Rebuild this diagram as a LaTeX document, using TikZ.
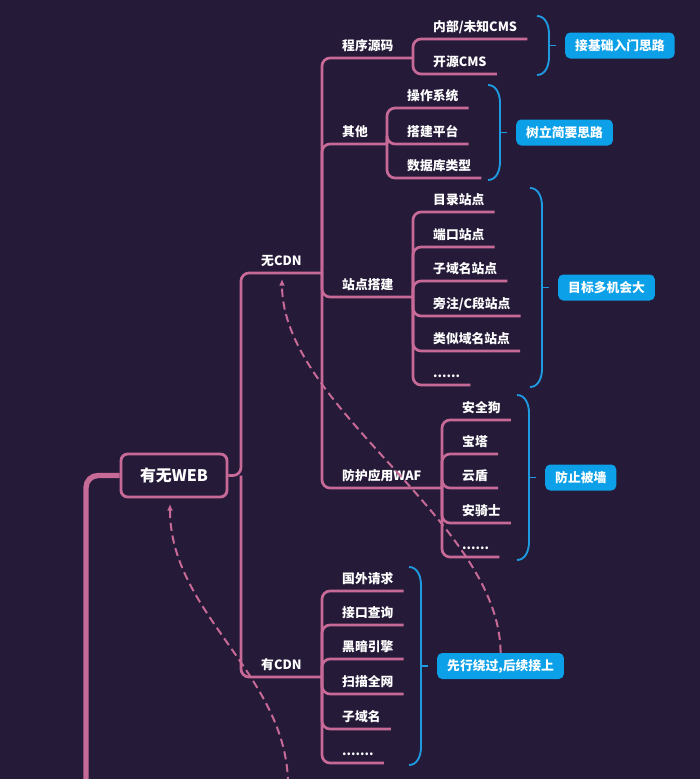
\documentclass[tikz,border=0pt]{standalone}
\usepackage{fontspec}
\setmainfont{Noto Sans CJK SC}
\usetikzlibrary{arrows.meta,positioning}
\definecolor{MapBg}{HTML}{251A38}
\definecolor{MapPink}{HTML}{C76A98}
\definecolor{MapBlue}{HTML}{1E9AE0}
\definecolor{MapTag}{HTML}{0BA0E8}
\newcommand{\curly}[4]{%
  \draw[brace] (#1,#2) to[out=0,in=90] (#1+12,#2+18) -- (#1+12,#3-18) to[out=-90,in=0] (#1,#3);
  \draw[brace] ({#1+12},{(#2+#3)/2}) -- ++(7,0) coordinate (#4);}

\begin{document}
\begin{tikzpicture}[x=0.03cm,y=-0.03cm,
    link/.style={MapPink,line width=2.3pt,rounded corners=0.24cm},
    trunk/.style={MapPink,line width=4.6pt,rounded corners=0.36cm},
    lbl/.style={anchor=south west,inner xsep=0.3cm,inner ysep=0pt,text depth=6.6pt,text=white,font=\fontsize{10.9}{13}\selectfont\bfseries},
    brace/.style={MapBlue,line width=1.6pt},
    tag/.style={fill=MapTag,rounded corners=0.15cm,text=white,minimum height=0.78cm,inner xsep=0.3cm,font=\fontsize{10.9}{13}\selectfont\bfseries},
    rootbox/.style={draw=MapPink,fill=MapBg,line width=2.4pt,rounded corners=0.2cm,minimum width=3.18cm,minimum height=1.29cm,text=white,font=\fontsize{13.6}{16}\selectfont\bfseries},
    jump/.style={MapPink,line width=1.7pt,dash pattern=on 7pt off 4pt,-{Latex[length=2mm,width=1.8mm]}}
  ]
    \useasboundingbox (0,0) rectangle (700,779);
    \clip (0,0) rectangle (700,779);
    \fill[MapBg] (0,0) rectangle (700,779);

    \node[rootbox] (root) at (174,475.5) {有无WEB};
    \coordinate (foot-l) at (86,800);
    \draw[trunk] (root.west) -| (foot-l);
    \coordinate (mid) at (241,475.5);
    \coordinate (nocdn) at (322,273);
    \coordinate (hascdn) at (322,677);
    \draw[link] (root.east) -- (mid) |- (nocdn);
    \draw[link] (mid) |- (hascdn);
    \node[lbl] (nocdn-l) at (251,273) {无CDN};
    \node[lbl] (hascdn-l) at (251,677) {有CDN};

    \coordinate (src) at (413,58);
    \coordinate (oth) at (387,144);
    \coordinate (site) at (413,297);
    \coordinate (waf) at (442,488);
    \draw[link] (nocdn) |- (src);
    \draw[link] (nocdn) |- (oth);
    \draw[link] (nocdn) |- (site);
    \draw[link] (nocdn) |- (waf);
    \node[lbl] (src-l) at (332,58) {程序源码};
    \node[lbl] (oth-l) at (332,144) {其他};
    \node[lbl] (site-l) at (332,297) {站点搭建};
    \node[lbl] (waf-l) at (332,488) {防护应用WAF};

    \node[lbl] (src1) at (423,39) {内部/未知CMS}; \draw[link] (src) |- (src1.south east);
    \node[lbl] (src2) at (423,74) {开源CMS}; \draw[link] (src) |- (src2.south east);

    \node[lbl] (oth1) at (397,108) {操作系统}; \draw[link] (oth) |- (oth1.south east);
    \node[lbl] (oth2) at (397,144) {搭建平台}; \draw[link] (oth) |- (oth2.south east);
    \node[lbl] (oth3) at (397,178) {数据库类型}; \draw[link] (oth) |- (oth3.south east);

    \node[lbl] (site1) at (423,212) {目录站点}; \draw[link] (site) |- (site1.south east);
    \node[lbl] (site2) at (423,247) {端口站点}; \draw[link] (site) |- (site2.south east);
    \node[lbl] (site3) at (423,281) {子域名站点}; \draw[link] (site) |- (site3.south east);
    \node[lbl] (site4) at (423,316) {旁注/C段站点}; \draw[link] (site) |- (site4.south east);
    \node[lbl] (site5) at (423,351) {类似域名站点}; \draw[link] (site) |- (site5.south east);
    \node[lbl] (site6) at (423,385) {......}; \draw[link] (site) |- (site6.south east);

    \node[lbl] (waf1) at (452,420) {安全狗}; \draw[link] (waf) |- (waf1.south east);
    \node[lbl] (waf2) at (452,454) {宝塔}; \draw[link] (waf) |- (waf2.south east);
    \node[lbl] (waf3) at (452,488) {云盾}; \draw[link] (waf) |- (waf3.south east);
    \node[lbl] (waf4) at (452,523) {安骑士}; \draw[link] (waf) |- (waf4.south east);
    \node[lbl] (waf5) at (452,557) {......}; \draw[link] (waf) |- (waf5.south east);

    \node[lbl] (cdn1) at (332,591) {国外请求}; \draw[link] (hascdn) |- (cdn1.south east);
    \node[lbl] (cdn2) at (332,625) {接口查询}; \draw[link] (hascdn) |- (cdn2.south east);
    \node[lbl] (cdn3) at (332,659) {黑暗引擎}; \draw[link] (hascdn) |- (cdn3.south east);
    \node[lbl] (cdn4) at (332,694) {扫描全网}; \draw[link] (hascdn) |- (cdn4.south east);
    \node[lbl] (cdn5) at (332,729) {子域名}; \draw[link] (hascdn) |- (cdn5.south east);
    \node[lbl] (cdn6) at (332,763) {.......}; \draw[link] (hascdn) |- (cdn6.south east);

    \curly{537}{16}{75}{t1}
    \curly{488}{85}{180}{t2}
    \curly{530}{188}{387}{t3}
    \curly{517}{395}{560}{t4}
    \curly{409}{567}{765}{t5}
    \node[tag,right=0.27cm of t1] (tag1) {接基础入门思路};
    \node[tag,right=0.27cm of t2] (tag2) {树立简要思路};
    \node[tag,right=0.27cm of t3] (tag3) {目标多机会大};
    \node[tag,right=0.27cm of t4] (tag4) {防止被墙};
    \node[tag,right=0.27cm of t5] (tag5) {先行绕过,后续接上};

    \coordinate (nocdn-in) at (282,279);
    \coordinate (root-in) at (170,504);
    \coordinate (foot) at (288,785);
    \draw[jump] (tag5.north) .. controls (500,521) and (282,408) .. (nocdn-in);
    \draw[jump] (foot) .. controls (288,675) and (170,614) .. (root-in);
  \end{tikzpicture}
\end{document}
